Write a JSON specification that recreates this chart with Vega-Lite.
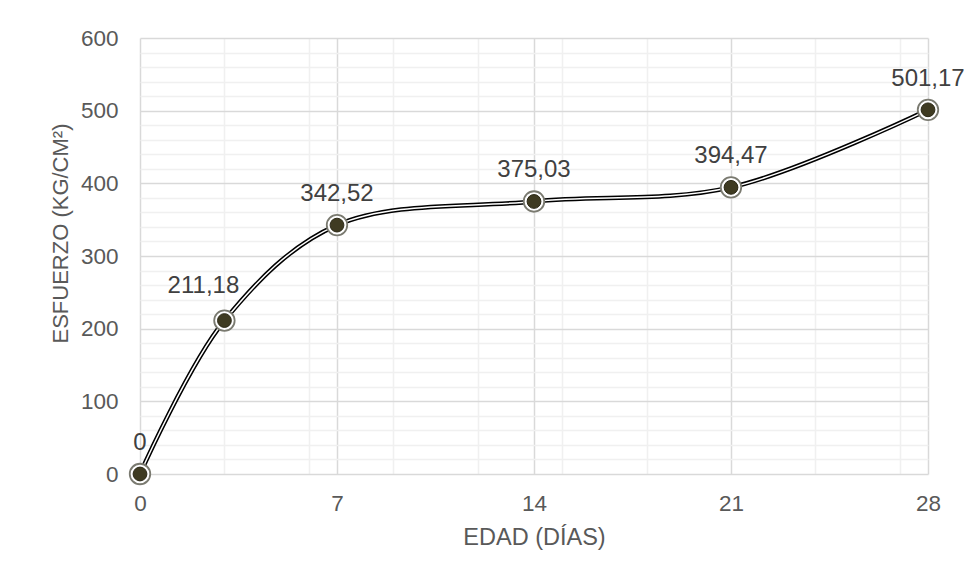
{
  "$schema": "https://vega.github.io/schema/vega-lite/v6.json",
  "width": 788,
  "height": 436,
  "autosize": {"type": "none"},
  "padding": {"left": 140, "top": 38, "right": 36, "bottom": 105},
  "background": "#ffffff",
  "config": {
    "font": "Liberation Sans",
    "view": {"stroke": null},
    "text": {"font": "Liberation Sans"}
  },
  "data": {
    "values": [
      {"dias": 0, "esfuerzo": 0, "etiqueta": "0"},
      {"dias": 3, "esfuerzo": 211.18, "etiqueta": "211,18"},
      {"dias": 7, "esfuerzo": 342.52, "etiqueta": "342,52"},
      {"dias": 14, "esfuerzo": 375.03, "etiqueta": "375,03"},
      {"dias": 21, "esfuerzo": 394.47, "etiqueta": "394,47"},
      {"dias": 28, "esfuerzo": 501.17, "etiqueta": "501,17"}
    ]
  },
  "encoding": {
    "x": {
      "field": "dias",
      "type": "quantitative",
      "scale": {"domain": [0, 28], "nice": false, "zero": false},
      "axis": {
        "title": "EDAD (DÍAS)",
        "values": [0, 3, 6, 7, 9, 12, 14, 15, 18, 21, 24, 27, 28],
        "labelExpr": "datum.value % 7 === 0 ? datum.label : ''",
        "labelOverlap": false,
        "labelFlush": false,
        "domain": false,
        "ticks": false,
        "grid": true,
        "gridColor": {"condition": {"test": "datum.value % 7 === 0", "value": "#d9d9d9"}, "value": "#f0f0f0"},
        "gridWidth": 1.5,
        "labelFontSize": 22.5,
        "labelColor": "#595959",
        "labelPadding": 18,
        "titleFontSize": 23.5,
        "titleFontWeight": "normal",
        "titleColor": "#595959",
        "titlePadding": 11
      }
    },
    "y": {
      "field": "esfuerzo",
      "type": "quantitative",
      "scale": {"domain": [0, 600], "nice": false},
      "axis": {
        "title": "ESFUERZO (KG/CM²)",
        "values": [0, 20, 40, 60, 80, 100, 120, 140, 160, 180, 200, 220, 240, 260, 280, 300, 320, 340, 360, 380, 400, 420, 440, 460, 480, 500, 520, 540, 560, 580, 600],
        "labelExpr": "datum.value % 100 === 0 ? datum.label : ''",
        "labelOverlap": false,
        "labelFlush": false,
        "domain": false,
        "ticks": false,
        "grid": true,
        "gridColor": {"condition": {"test": "datum.value % 100 === 0", "value": "#d9d9d9"}, "value": "#f0f0f0"},
        "gridWidth": 1.5,
        "labelFontSize": 22.5,
        "labelColor": "#595959",
        "labelPadding": 22,
        "titleFontSize": 22,
        "titleFontWeight": "normal",
        "titleColor": "#595959",
        "titlePadding": 8,
        "titleY": 195
      }
    }
  },
  "layer": [
    {"mark": {"type": "line", "interpolate": "catmull-rom", "color": "#000000", "strokeWidth": 4.5}},
    {"mark": {"type": "line", "interpolate": "catmull-rom", "color": "#ffffff", "strokeWidth": 1.5}},
    {"mark": {"type": "point", "shape": "circle", "filled": true, "size": 420, "fill": "#ffffff", "stroke": "#7a7a70", "strokeWidth": 1.8, "opacity": 1}},
    {"mark": {"type": "point", "shape": "circle", "filled": true, "size": 190, "fill": "#3f3b22", "stroke": "#2b2816", "strokeWidth": 1, "opacity": 1}},
    {
      "transform": [{"filter": "datum.dias !== 3"}],
      "mark": {"type": "text", "fontSize": 24, "color": "#404040", "baseline": "alphabetic", "align": "center", "dy": -24},
      "encoding": {"text": {"field": "etiqueta"}}
    },
    {
      "transform": [{"filter": "datum.dias === 3"}],
      "mark": {"type": "text", "fontSize": 24, "color": "#404040", "baseline": "alphabetic", "align": "center", "dy": -28, "dx": -21},
      "encoding": {"text": {"field": "etiqueta"}}
    }
  ]
}
